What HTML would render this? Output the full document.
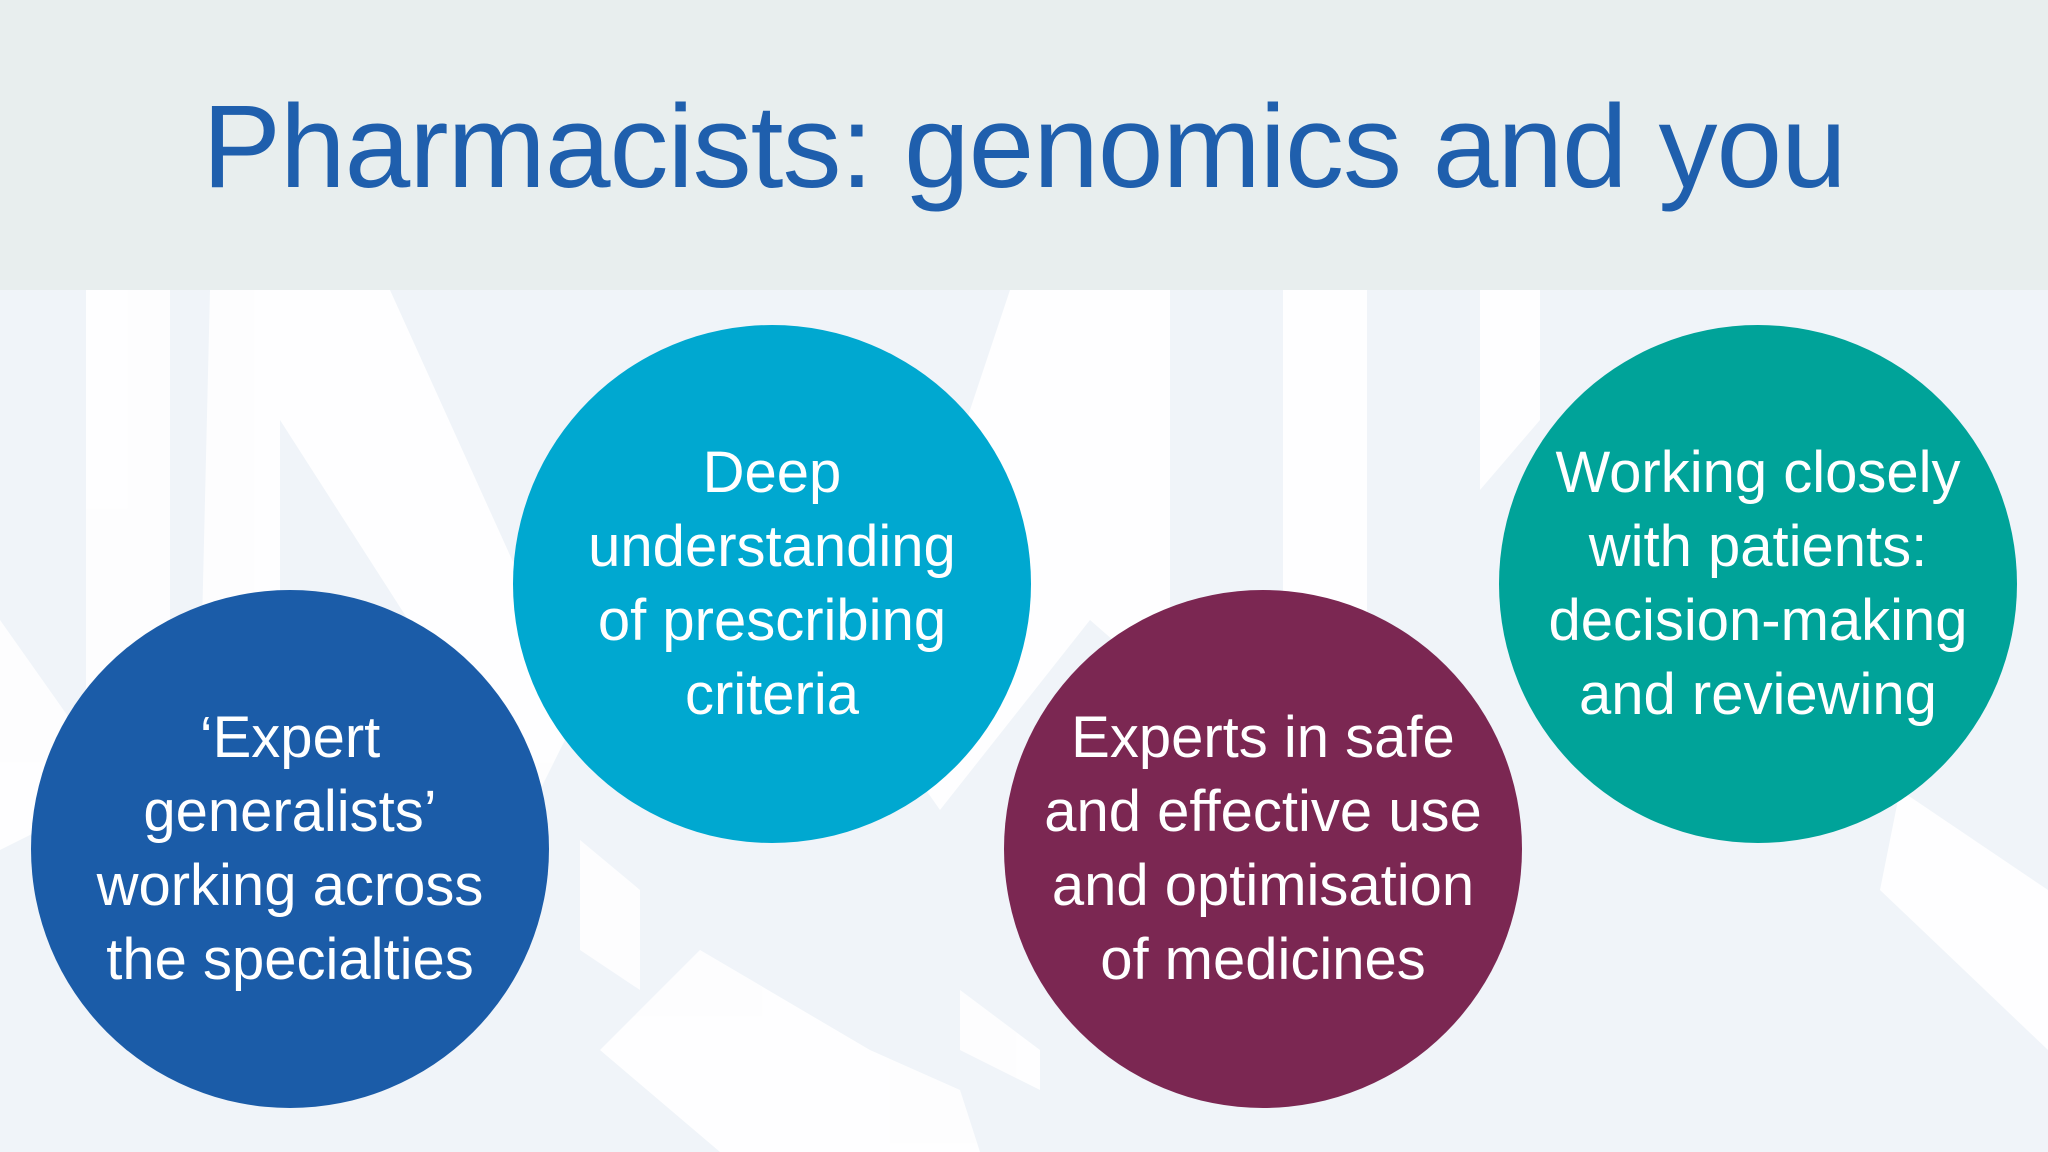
<!DOCTYPE html>
<html><head><style>
html,body{margin:0;padding:0}
body{width:2048px;height:1152px;position:relative;overflow:hidden;background:#f0f4f9;font-family:"Liberation Sans",sans-serif}
#hdr{position:absolute;left:0;top:0;width:2048px;height:290px;background:#e8eeee}
#title{position:absolute;left:0;width:2048px;top:72px;text-align:center;font-size:118px;color:#1f5fad;line-height:150px;letter-spacing:-1px}
.c{position:absolute;width:518px;height:518px;border-radius:50%;display:flex;align-items:center;justify-content:center;text-align:center;color:#fff;font-size:58px;line-height:74px}
</style></head><body>
<svg style="position:absolute;left:0;top:290px" width="2048" height="862">
<g fill="#ffffff" opacity="0.9">
<rect x="86" y="0" width="84" height="420"/>
<polygon points="210,0 390,0 580,420 530,520 280,130 280,520 200,420"/>
<polygon points="1010,0 1170,0 1170,400 1090,330 940,520 870,420"/>
<rect x="1283" y="0" width="84" height="340"/>
<polygon points="1480,0 1540,0 1540,130 1480,200"/>
<polygon points="0,330 120,500 0,560"/>
<polygon points="580,550 640,600 640,700 580,660"/>
<polygon points="1900,500 2048,600 2048,760 1880,600"/>
<polygon points="700,660 870,760 960,800 980,862 720,862 600,760"/>
<polygon points="960,700 1040,760 1040,800 960,760"/>
</g>
</svg>
<div id="hdr"></div>
<div id="title">Pharmacists: genomics and you</div>
<div class="c" style="left:31px;top:590px;background:#1b5ca8">‘Expert<br>generalists’<br>working across<br>the specialties</div>
<div class="c" style="left:513px;top:325px;background:#00a8d0">Deep<br>understanding<br>of prescribing<br>criteria</div>
<div class="c" style="left:1004px;top:590px;background:#7b2752">Experts in safe<br>and effective use<br>and optimisation<br>of medicines</div>
<div class="c" style="left:1499px;top:325px;background:#00a399">Working closely<br>with patients:<br>decision-making<br>and reviewing</div>
</body></html>
